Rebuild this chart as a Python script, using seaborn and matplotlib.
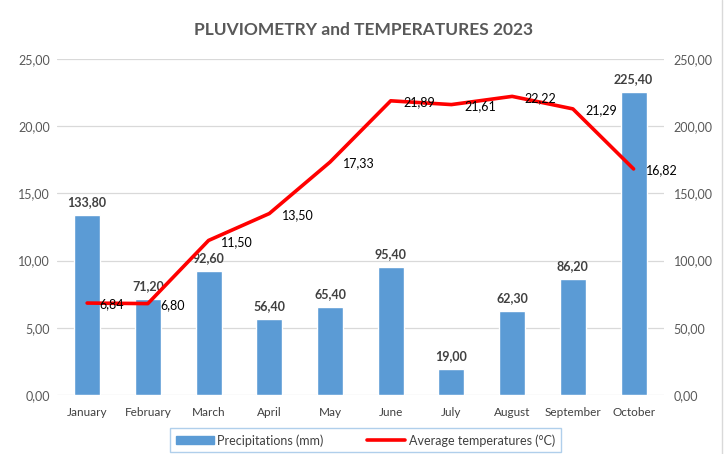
import matplotlib
matplotlib.use("Agg")
import matplotlib.pyplot as plt
import seaborn as sns
import numpy as np
import pandas as pd
from matplotlib.patches import Patch
from matplotlib.lines import Line2D

months = ["January", "February", "March", "April", "May", "June",
          "July", "August", "September", "October"]
precip = [133.80, 71.20, 92.60, 56.40, 65.40, 95.40, 19.00, 62.30, 86.20, 225.40]
temps = [6.84, 6.80, 11.50, 13.50, 17.33, 21.89, 21.61, 22.22, 21.29, 16.82]
title = "PLUVIOMETRY and TEMPERATURES 2023"
bar_label = "Precipitations (mm)"
line_label = "Average temperatures (°C)"

sns.set_theme(style="white")
plt.rcParams['font.family'] = ['Lato', 'DejaVu Sans']

def fmt(v):
    return f"{v:.2f}".replace(".", ",")

df = pd.DataFrame({"month": months, "precip": precip, "temp": temps})
df["pos"] = np.arange(len(months))

fig = plt.figure(figsize=(7.28, 4.54), dpi=100)
ax = fig.add_axes([0.078, 0.130, 0.834, 0.740])
ax2 = ax.twinx()

BAR = "#5b9bd5"
RED = "#ff0000"
TXT = "#595959"
DARK = "#404040"

# bars on the right axis
sns.barplot(data=df, x="month", y="precip", order=months, color=BAR,
            width=0.43, ax=ax2, saturation=1)
ax2.set_ylim(0, 250)
ax2.set_yticks(np.arange(0, 251, 50))
ax2.set_yticklabels([fmt(v) for v in np.arange(0, 251, 50)], color=TXT, fontsize=9)
ax2.yaxis.grid(True, color="#d9d9d9", linewidth=0.9)
ax2.set_axisbelow(True)
ax2.set_ylabel("")
ax2.set_xlabel("")
ax2.tick_params(axis="y", length=0, pad=7)
for i, v in enumerate(precip):
    ax2.annotate(fmt(v), (i, v), xytext=(0, 5), textcoords="offset points",
                 ha="center", va="bottom", fontsize=9, fontweight="bold", color=DARK)

# line on the left axis, drawn on top
sns.lineplot(data=df, x="pos", y="temp", color=RED, linewidth=2.6, ax=ax)
ax.set_zorder(ax2.get_zorder() + 1)
ax.patch.set_visible(False)
ax.set_ylim(0, 25)
ax.set_xlim(-0.5, len(months) - 0.5)
ax2.set_xlim(-0.5, len(months) - 0.5)
ax.set_yticks(np.arange(0, 26, 5))
ax.set_yticklabels([fmt(v) for v in np.arange(0, 26, 5)], color=TXT, fontsize=9)
ax.set_xticks(np.arange(len(months)))
ax.set_xticklabels(months, color=DARK, fontsize=8.5)
ax.tick_params(axis="both", length=0)
ax.tick_params(axis="y", pad=5)
ax.tick_params(axis="x", pad=9)
ax.set_xlabel("")
ax.set_ylabel("")
for i, v in enumerate(temps):
    ax.annotate(fmt(v), (i, v), xytext=(9, -1), textcoords="offset points",
                ha="left", va="center", fontsize=9, color="#000000")

for a in (ax, ax2):
    for s in a.spines.values():
        s.set_visible(False)
ax2.tick_params(axis="x", labelbottom=False, length=0)

fig.text(0.5, 0.935, title, ha="center", va="center", fontsize=12.5,
         fontweight="bold", color=TXT)

handles = [Patch(facecolor=BAR, edgecolor=BAR),
           Line2D([0], [0], color=RED, linewidth=2.6)]
leg = fig.legend(handles, [bar_label, line_label], loc="center",
                 bbox_to_anchor=(0.502, 0.030), ncol=2, fontsize=9,
                 frameon=True, fancybox=False, handlelength=3.0,
                 handleheight=0.6, columnspacing=3.5, borderpad=0.45,
                 handletextpad=0.3, borderaxespad=0)
leg.get_frame().set_edgecolor("#9dc3e6")
leg.get_frame().set_linewidth(1.0)
for t in leg.get_texts():
    t.set_color(DARK)

fig.add_artist(Line2D([0.992, 0.992], [0.0, 1.0], color="#d9d9d9", linewidth=1.0,
                      transform=fig.transFigure))

fig.savefig("out.png", dpi=100)
